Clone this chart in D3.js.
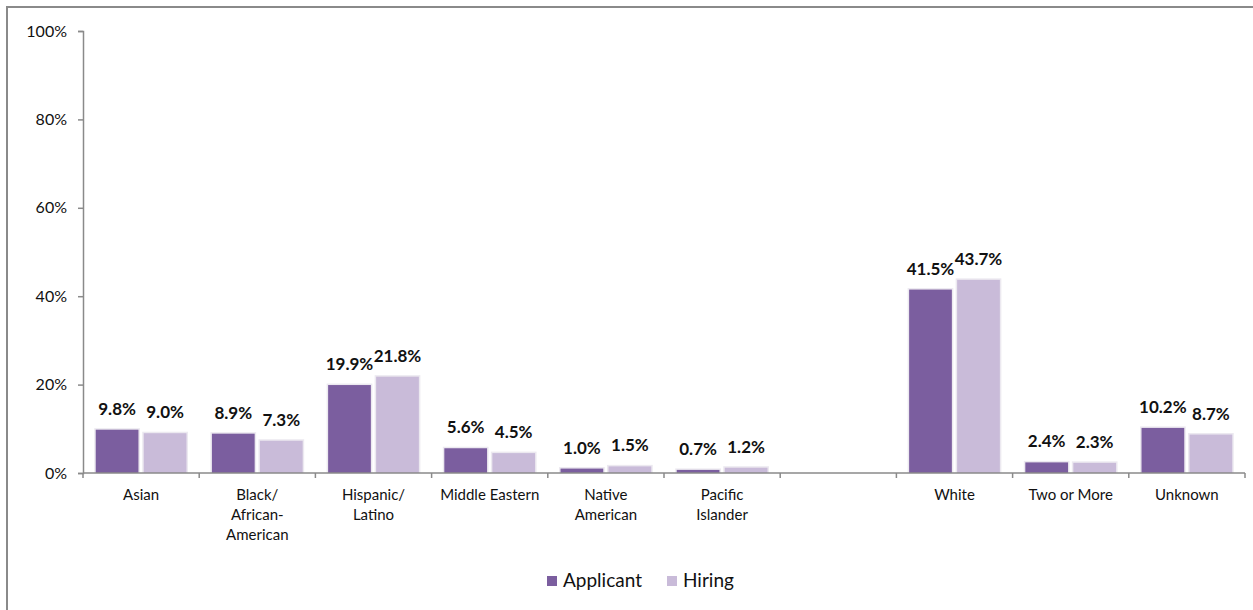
<!DOCTYPE html>
<meta charset="utf-8">
<style>
  body { margin: 0; background: #fff; }
  text { font-family: Lato, 'Open Sans', sans-serif; fill: #111; }
  .val { font-weight: bold; font-size: 17px; }
  .cat { font-size: 15px; }
  .ytick text { font-size: 16px; }
</style>
<body>
<script src="https://cdn.jsdelivr.net/npm/d3@7"></script>
<script>
  var categories = ["Asian", "Black/\nAfrican-\nAmerican", "Hispanic/\nLatino", "Middle Eastern",
    "Native\nAmerican", "Pacific\nIslander", "", "White", "Two or More", "Unknown"];
  var applicant = [9.8, 8.9, 19.9, 5.6, 1.0, 0.7, null, 41.5, 2.4, 10.2];
  var hiring = [9.0, 7.3, 21.8, 4.5, 1.5, 1.2, null, 43.7, 2.3, 8.7];
  var seriesNames = ["Applicant", "Hiring"];
  var colors = ["#7b5e9f", "#c9bbd9"];
  var yTicks = [0, 20, 40, 60, 80, 100];

  var width = 1253, height = 610;
  var svg = d3.select("body").append("svg")
    .attr("width", width)
    .attr("height", height);

  // outer frame (cut off at right / bottom like the original)
  svg.append("rect")
    .attr("x", 7).attr("y", 7)
    .attr("width", 1270).attr("height", 640)
    .attr("fill", "none")
    .attr("stroke", "#8a8a8a")
    .attr("stroke-width", 2);

  var x = d3.scaleBand()
    .domain(d3.range(categories.length))
    .range([83, 1245])
    .paddingInner(0).paddingOuter(0);

  var x1 = d3.scaleBand()
    .domain([0, 1])
    .range([0, x.bandwidth()])
    .paddingInner(0.11)
    .paddingOuter(0.265);

  var y = d3.scaleLinear().domain([0, 100]).range([473, 31]);

  // y axis
  var yAxis = svg.append("g")
    .attr("class", "ytick")
    .attr("transform", "translate(83,0)")
    .call(d3.axisLeft(y).tickValues(yTicks).tickSize(5).tickPadding(11)
      .tickFormat(function(d) { return d + "%"; }));
  yAxis.select(".domain").attr("stroke", "#8a8a8a").attr("stroke-width", 1.5);
  yAxis.selectAll(".tick line").attr("stroke", "#8a8a8a").attr("stroke-width", 1.5);

  // bars
  var rows = categories.map(function(c, i) {
    return { i: i, vals: [applicant[i], hiring[i]] };
  });

  var groups = svg.selectAll("g.cat-group")
    .data(rows)
    .enter().append("g")
    .attr("class", "cat-group")
    .attr("transform", function(d) { return "translate(" + x(d.i) + ",0)"; });

  var cells = groups.selectAll("g.cell")
    .data(function(d) {
      return d.vals.map(function(v, k) { return { k: k, v: v }; })
        .filter(function(e) { return e.v != null; });
    })
    .enter().append("g").attr("class", "cell");

  // faint shadow
  cells.append("rect")
    .attr("x", function(d) { return x1(d.k) - 1.5; })
    .attr("y", function(d) { return y(d.v) - 1.5; })
    .attr("width", x1.bandwidth() + 3)
    .attr("height", function(d) { return y(0) - y(d.v) + 1.5; })
    .attr("fill", "#ece9f0");

  cells.append("rect")
    .attr("x", function(d) { return x1(d.k); })
    .attr("y", function(d) { return y(d.v); })
    .attr("width", x1.bandwidth())
    .attr("height", function(d) { return y(0) - y(d.v); })
    .attr("fill", function(d) { return colors[d.k]; });

  cells.append("text")
    .attr("class", "val")
    .attr("text-anchor", "middle")
    .attr("x", function(d) { return x1(d.k) + x1.bandwidth() / 2; })
    .attr("y", function(d) { return y(d.v) - 15; })
    .text(function(d) { return d.v.toFixed(1) + "%"; });

  // x axis
  svg.append("line")
    .attr("x1", 83).attr("x2", 1245)
    .attr("y1", y(0)).attr("y2", y(0))
    .attr("stroke", "#8a8a8a").attr("stroke-width", 1.5);

  svg.selectAll("line.xtick")
    .data(d3.range(categories.length + 1))
    .enter().append("line")
    .attr("class", "xtick")
    .attr("x1", function(d) { return 83 + d * x.bandwidth(); })
    .attr("x2", function(d) { return 83 + d * x.bandwidth(); })
    .attr("y1", y(0)).attr("y2", y(0) + 5)
    .attr("stroke", "#8a8a8a").attr("stroke-width", 1.5);

  var catText = svg.selectAll("text.cat")
    .data(categories)
    .enter().append("text")
    .attr("class", "cat")
    .attr("text-anchor", "middle")
    .attr("x", function(d, i) { return x(i) + x.bandwidth() / 2; })
    .attr("y", 500);
  catText.each(function(d) {
    var t = d3.select(this);
    d.split("\n").forEach(function(line, j) {
      t.append("tspan")
        .attr("x", t.attr("x"))
        .attr("dy", j === 0 ? 0 : 20)
        .text(line);
    });
  });

  // legend
  var legend = svg.append("g").attr("transform", "translate(547,576)");
  var legX = [0, 120];
  seriesNames.forEach(function(name, k) {
    legend.append("rect")
      .attr("x", legX[k]).attr("y", 0)
      .attr("width", 10).attr("height", 10)
      .attr("fill", colors[k]);
    legend.append("text")
      .attr("x", legX[k] + 16).attr("y", 11)
      .style("font-size", "19px")
      .text(name);
  });
</script>
</body>
